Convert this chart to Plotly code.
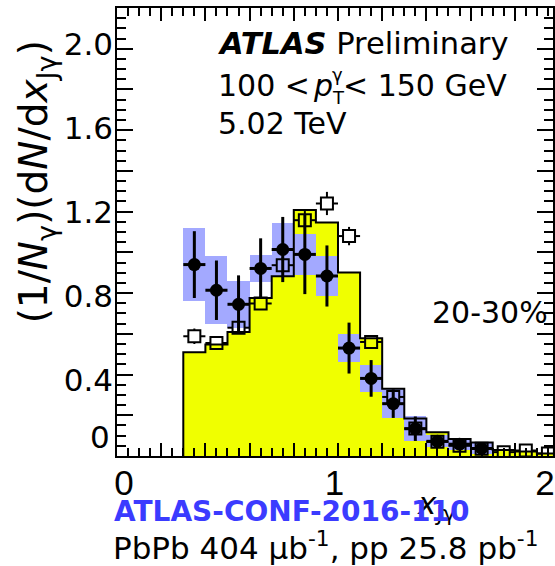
import plotly.graph_objects as go

# ---- x_Jgamma binning -------------------------------------------------------
bin_lo = [0.3, 0.4, 0.5, 0.6, 0.7, 0.8, 0.9, 1.0, 1.1, 1.2, 1.3, 1.4, 1.5, 1.6, 1.7, 1.8, 1.9]
bin_w = 0.1
x_mid = [round(b + bin_w / 2, 3) for b in bin_lo]

# ---- Pythia reference histogram (yellow) -----------------------------------
mc_vals = [0.510, 0.547, 0.609, 0.776, 0.883, 1.208, 1.147, 0.901, 0.578,
           0.330, 0.184, 0.117, 0.084, 0.066, 0.030, 0.022, 0.012]

# ---- Pb+Pb 20-30% (filled circles, blue systematic boxes) --------------------
pbpb_y = [0.940, 0.814, 0.745, 0.921, 1.014, 0.990, 0.884, 0.530, 0.381,
          0.257, 0.134, 0.072, 0.058, 0.037]
pbpb_stat = [0.164, 0.146, 0.142, 0.148, 0.160, 0.195, 0.150, 0.125, 0.090,
             0.070, 0.060, 0.030, 0.020, 0.015]
pbpb_sys = [0.180, 0.168, 0.115, 0.066, 0.130, 0.100, 0.098, 0.070, 0.065,
            0.070, 0.060, 0.030, 0.030, 0.025]
pbpb_x = x_mid[:len(pbpb_y)]

# ---- pp (open squares) ------------------------------------------------------
pp_y = [0.588, 0.555, 0.630, 0.749, 0.937, 1.158, 1.240, 1.080, 0.560,
        0.290, 0.135, 0.070, 0.050, 0.035, 0.019, 0.027, 0.012]
pp_stat = [0.038, 0.030, 0.030, 0.030, 0.040, 0.045, 0.057, 0.045, 0.030,
           0.025, 0.020, 0.015, 0.012, 0.010, 0.008, 0.010, 0.008]

# ---- tick labels -----------------------------------------------------------
x_tick_vals = [0, 1, 2]
x_tick_text = ["0", "1", "2"]
y_tick_vals = [0.4, 0.8, 1.2, 1.6, 2.0]
y_tick_text = ["0.4", "0.8", "1.2", "1.6", "2.0"]

# ---- page geometry -----------------------------------------------------------
W, H = 555, 566
ML, MR, MT, MB = 117, 0, 8, 110
PW, PH = W - ML - MR, H - MT - MB
X_RANGE = [0, PW / 222.0]
Y_RANGE = [0, 2.2]
X2_RANGE = [-0.033, -0.033 + PW / 211.5]
Y2_RANGE = [2.17 - PH / 210.0, 2.17]

FONT = "DejaVu Sans, Liberation Sans, Arial, sans-serif"
FONT_NARROW = "Liberation Sans, Arial, sans-serif"
YELLOW = "#f0ff00"
BLUE = "#a3a9ff"

# marker half-size in data units (error lines stop at the open-square edge)
SQ_HALF_PX = 6
sq_dx = SQ_HALF_PX * (X_RANGE[1] - X_RANGE[0]) / PW
sq_dy = SQ_HALF_PX * (Y_RANGE[1] - Y_RANGE[0]) / PH


def px_x(p):
    return (p - ML) / PW


def px_y(p):
    return 1 - (p - MT) / PH


fig = go.Figure()

# yellow filled histogram
fig.add_trace(go.Bar(x=x_mid, y=mc_vals, width=bin_w, marker=dict(color=YELLOW, line=dict(width=0)),
                     hoverinfo="skip", showlegend=False))

# Pb+Pb systematic boxes
fig.add_trace(go.Bar(x=pbpb_x, y=[2 * s for s in pbpb_sys],
                     base=[v - s for v, s in zip(pbpb_y, pbpb_sys)],
                     width=bin_w, marker=dict(color=BLUE, line=dict(width=0)),
                     hoverinfo="skip", showlegend=False))

# histogram outline (step)
edges = bin_lo + [bin_lo[-1] + bin_w]
step_x = [edges[0]] + edges + [edges[-1]]
step_y = [0] + mc_vals + [mc_vals[-1], 0]
fig.add_trace(go.Scatter(x=step_x, y=step_y, mode="lines",
                         line=dict(color="black", width=2, shape="hv"),
                         hoverinfo="skip", showlegend=False))

# Pb+Pb points
fig.add_trace(go.Scatter(
    x=pbpb_x, y=pbpb_y, mode="markers",
    marker=dict(symbol="circle", size=13, color="black"),
    error_x=dict(type="constant", value=bin_w / 2, thickness=3, width=0, color="black"),
    error_y=dict(type="data", array=pbpb_stat, thickness=3, width=0, color="black"),
    hoverinfo="skip", showlegend=False))

# pp error lines, broken at the open square
ex, ey = [], []
for xc, yc, st in zip(x_mid, pp_y, pp_stat):
    ex += [xc - bin_w / 2, xc - sq_dx, None, xc + sq_dx, xc + bin_w / 2, None]
    ey += [yc, yc, None, yc, yc, None]
    if st > sq_dy:
        ex += [xc, xc, None, xc, xc, None]
        ey += [yc + sq_dy, yc + st, None, yc - sq_dy, yc - st, None]
fig.add_trace(go.Scatter(x=ex, y=ey, mode="lines", line=dict(color="black", width=2),
                         hoverinfo="skip", showlegend=False, connectgaps=False))
fig.add_trace(go.Scatter(
    x=x_mid, y=pp_y, mode="markers",
    marker=dict(symbol="square-open", size=12, color="black", line=dict(width=2, color="black")),
    hoverinfo="skip", showlegend=False))

# label-only overlay axes need a (hidden) trace to be drawn
fig.add_trace(go.Scatter(x=x_tick_vals, y=y_tick_vals[:len(x_tick_vals)], xaxis="x2", yaxis="y2",
                         mode="markers", marker=dict(opacity=0), hoverinfo="skip",
                         showlegend=False))

axis_common = dict(showgrid=False, zeroline=False, showline=True, linecolor="black", linewidth=2,
                   mirror="allticks", ticks="inside", tickcolor="black", tickwidth=1.5,
                   showticklabels=False)

fig.update_layout(
    width=W, height=H,
    margin=dict(l=ML, r=MR, t=MT, b=MB, pad=0),
    paper_bgcolor="white", plot_bgcolor="white",
    barmode="overlay", bargap=0,
    showlegend=False,
    font=dict(family=FONT, color="black"),
    xaxis=dict(range=X_RANGE, tick0=0, dtick=0.2, ticklen=13,
               minor=dict(tick0=0, dtick=0.05, ticklen=8, ticks="inside", tickcolor="black",
                          tickwidth=1.5, showgrid=False),
               **axis_common),
    yaxis=dict(range=Y_RANGE, tick0=0, dtick=0.2, ticklen=16,
               minor=dict(tick0=0, dtick=0.05, ticklen=9, ticks="inside", tickcolor="black",
                          tickwidth=1.5, showgrid=False),
               **axis_common),
    # label-only axes carrying the printed tick numbers
    xaxis2=dict(overlaying="x", anchor="y2", side="bottom", range=X2_RANGE,
                tickvals=x_tick_vals, ticktext=x_tick_text, ticks="", showline=False,
                showgrid=False, zeroline=False, tickfont=dict(size=35, family=FONT_NARROW),
                ticklabelstandoff=3),
    yaxis2=dict(overlaying="y", anchor="x2", side="left", range=Y2_RANGE,
                tickvals=y_tick_vals, ticktext=y_tick_text, ticks="", showline=False,
                showgrid=False, zeroline=False, tickfont=dict(size=31, family=FONT),
                ticklabelstandoff=3),
)

ann = []


def text(x, y, s, size, xanchor="left", color="black", angle=0):
    ann.append(dict(x=px_x(x), y=px_y(y), xref="paper", yref="paper", text=s, showarrow=False,
                    xanchor=xanchor, yanchor="middle", textangle=angle,
                    font=dict(family=FONT, size=size, color=color)))


text(112, 437, "0", 31, xanchor="right")
text(216, 43, "<b><i>ATLAS</i></b> Preliminary", 30.5)
text(216, 86, "100 <", 30)
text(312, 86, "<i>p</i>", 30)
text(331, 74, "γ", 18)
text(331, 97, "T", 18)
text(342, 86, "< 150 GeV", 30)
text(216, 123, "5.02 TeV", 30)
text(431, 312, "20-30%", 30)
text(36, 182, "(1/<i>N</i><sub>γ</sub>)(d<i>N</i>/d<i>x</i><sub>Jγ</sub>)", 39, xanchor="center", angle=-90)
text(416, 505, "<i>x</i><sub>Jγ</sub>", 31)
text(293, 511, "<b>ATLAS-CONF-2016-110</b>", 28, xanchor="center", color="#3b3bff")
text(326, 546, "PbPb 404 μb<sup>-1</sup>, pp 25.8 pb<sup>-1</sup>", 31, xanchor="center")

fig.update_layout(annotations=ann)

fig.write_html("out.html")
